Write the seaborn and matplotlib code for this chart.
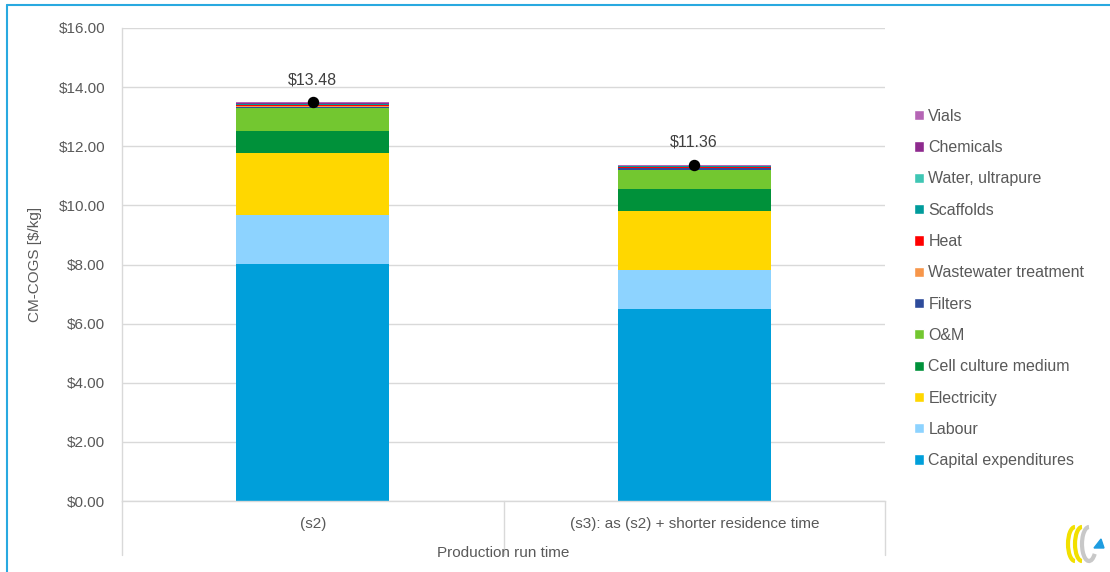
import numpy as np
import pandas as pd
import matplotlib
matplotlib.use("Agg")
import matplotlib.pyplot as plt
import seaborn as sns
from matplotlib.lines import Line2D
from matplotlib.patches import Arc, Polygon

# ---------------- data ----------------
categories = ["(s2)", "(s3): as (s2) + shorter residence time"]
components = ["Capital expenditures", "Labour", "Electricity", "Cell culture medium",
              "O&M", "Filters", "Wastewater treatment", "Heat", "Scaffolds",
              "Water, ultrapure", "Chemicals", "Vials"]
capex = [8.03, 6.48]
labour = [1.66, 1.35]
electricity = [2.08, 1.97]
cell_medium = [0.76, 0.76]
om = [0.76, 0.63]
filters = [0.05, 0.07]
wastewater = [0.02, 0.01]
heat = [0.05, 0.045]
scaffolds = [0.003, 0.003]
water = [0.003, 0.003]
chemicals = [0.034, 0.022]
vials = [0.034, 0.022]
totals = [13.48, 11.36]
total_labels = ["$13.48", "$11.36"]
y_ticks = [0, 2, 4, 6, 8, 10, 12, 14, 16]
y_label = "CM-COGS [$/kg]"
x_label = "Production run time"

series = [capex, labour, electricity, cell_medium, om, filters, wastewater,
          heat, scaffolds, water, chemicals, vials]
colors = ["#009FDA", "#8DD3FF", "#FFD700", "#00913A", "#73C730", "#2E4B9B",
          "#F7964A", "#FF0000", "#009B9B", "#3FC6B4", "#8E2A8E", "#B565B5"]

# ---------------- plot ----------------
sns.set_theme(style="white")
plt.rcParams["font.family"] = ["Liberation Sans", "DejaVu Sans"]
text_col = "#595959"

fig = plt.figure(figsize=(11.10, 5.72), dpi=100)
ax = fig.add_axes([122 / 1110, 1 - 501 / 572, (885 - 122) / 1110, (501 - 28) / 572])

df = pd.DataFrame({"category": categories})
bottom = np.zeros(len(categories))
handles = []
for name, vals, col in zip(components, series, colors):
    df["value"] = vals
    sns.barplot(data=df, x="category", y="value", color=col, width=0.4,
                bottom=bottom.copy(), errorbar=None, ax=ax, linewidth=0,
                saturation=1)
    bottom = bottom + np.array(vals)
    handles.append(matplotlib.patches.Patch(facecolor=col, label=name))

xpos = np.arange(len(categories))
ax.scatter(xpos, totals, s=52, color="black", zorder=5)
for xp, t, lab in zip(xpos, totals, total_labels):
    ax.annotate(lab, (xp, t), xytext=(0, 11), textcoords="offset points",
                ha="center", va="bottom", fontsize=11.5, color="#404040")

ax.set_xlim(-0.5, len(categories) - 0.5)
ax.set_ylim(0, 16)
ax.set_yticks(y_ticks)
ax.set_yticklabels([f"${v:.2f}" for v in y_ticks], fontsize=11, color=text_col)
ax.yaxis.grid(True, color="#D9D9D9", linewidth=1)
ax.set_axisbelow(True)
ax.tick_params(axis="y", length=0, pad=12)
ax.set_xticks([])
ax.set_xlabel("")
ax.set_ylabel(y_label, fontsize=11, color=text_col, labelpad=12)
for s in ["top", "right"]:
    ax.spines[s].set_visible(False)
for s in ["left", "bottom"]:
    ax.spines[s].set_color("#D9D9D9")
    ax.spines[s].set_linewidth(1)

# multi-level category axis below
for i in range(len(categories) + 1):
    ax.plot([i - 0.5, i - 0.5], [0, -1.82], color="#D9D9D9", lw=1,
            clip_on=False, transform=ax.transData)
for xp, c in zip(xpos, categories):
    ax.text(xp, -0.77, c, ha="center", va="center", fontsize=11, color=text_col)
ax.text(np.mean(xpos), -1.77, x_label, ha="center", va="center",
        fontsize=11, color=text_col)

leg = fig.legend(handles=handles[::-1], loc="center left",
                 bbox_to_anchor=(914 / 1110, 1 - 288.5 / 572), frameon=False,
                 fontsize=11.5, handlelength=0.6, handleheight=0.6,
                 handletextpad=0.3, labelspacing=1.02, borderpad=0,
                 borderaxespad=0)
for t in leg.get_texts():
    t.set_color(text_col)

# frame lines (blue border at top/left)
fig.add_artist(Line2D([7 / 1110, 1], [1 - 5 / 572, 1 - 5 / 572], color="#29A9E0", lw=1.5))
fig.add_artist(Line2D([7 / 1110, 7 / 1110], [0, 1 - 5 / 572], color="#29A9E0", lw=1.5))

# small logo
lax = fig.add_axes([1058 / 1110, 1 - 566 / 572, 50 / 1110, 46 / 572])
lax.set_xlim(0, 50)
lax.set_ylim(0, 46)
lax.axis("off")
lax.add_patch(Arc((17, 22), 14, 34, theta1=90, theta2=270, color="#F2E000", lw=3))
lax.add_patch(Arc((24, 22), 14, 34, theta1=90, theta2=270, color="#F2E000", lw=3))
lax.add_patch(Arc((31, 22), 14, 34, theta1=90, theta2=300, color="#C8C8C8", lw=3))
lax.add_patch(Polygon([[36, 18], [46, 18], [43, 27]], color="#1E9CE0"))

fig.savefig("out.png", dpi=100)
